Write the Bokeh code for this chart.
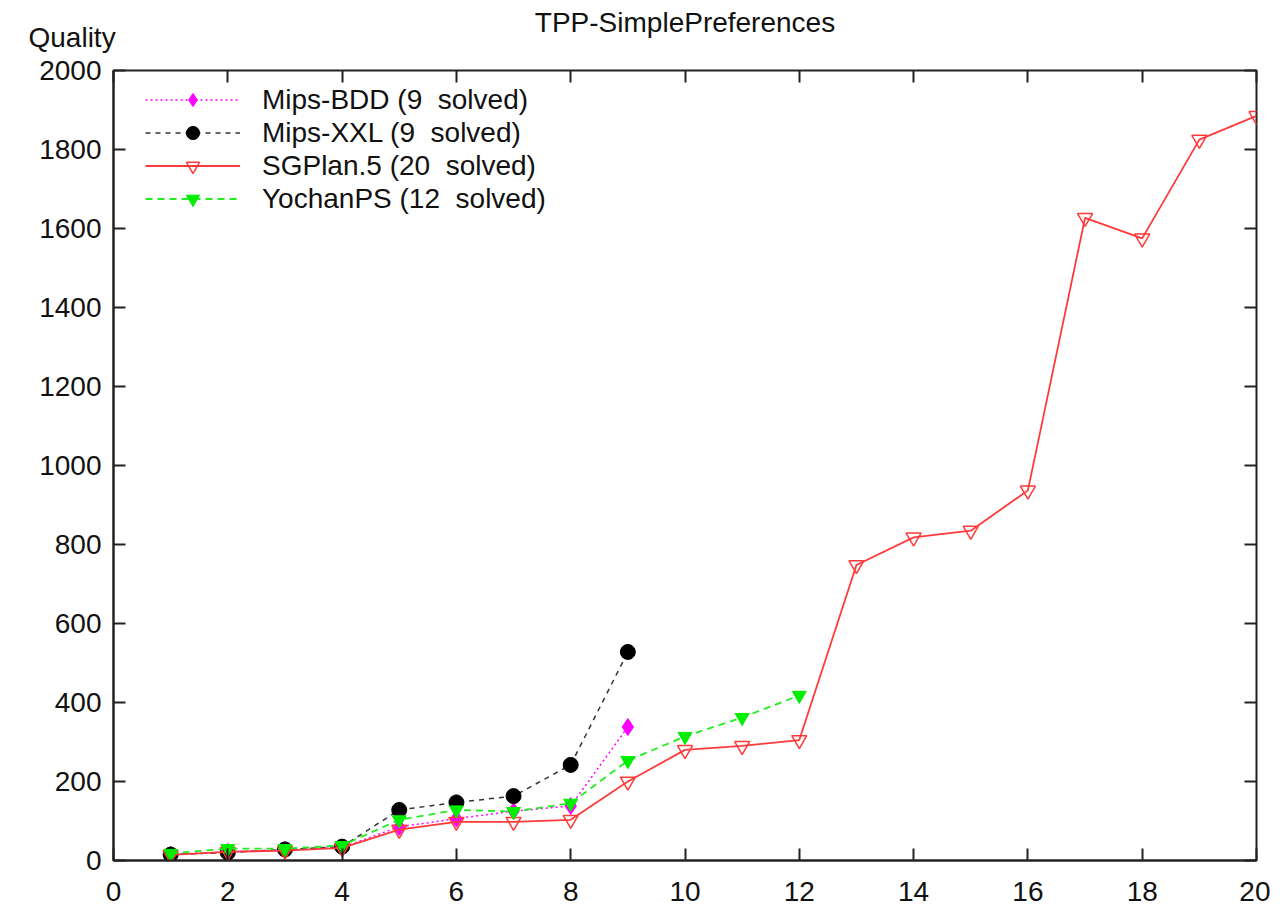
from bokeh.plotting import figure
from bokeh.models import Legend, LegendItem, LinearAxis, FixedTicker, Range1d, Title
from bokeh.embed import file_html
from bokeh.resources import INLINE

problems_bdd = [1, 2, 3, 4, 5, 6, 7, 8, 9]
mips_bdd = [15, 22, 27, 33, 85, 106, 125, 138, 338]
problems_xxl = [1, 2, 3, 4, 5, 6, 7, 8, 9]
mips_xxl = [15, 20, 28, 35, 128, 147, 163, 242, 528]
problems_sg = list(range(1, 21))
sgplan = [14, 22, 25, 32, 78, 98, 98, 103, 200, 280, 290, 305, 748, 818, 835, 937, 1627, 1575, 1825, 1885]
problems_yp = list(range(1, 13))
yochan = [18, 30, 30, 38, 103, 128, 124, 145, 253, 314, 362, 418]

labels = ["Mips-BDD (9  solved)", "Mips-XXL (9  solved)", "SGPlan.5 (20  solved)", "YochanPS (12  solved)"]
x_ticks = list(range(0, 21, 2))
y_ticks = list(range(0, 2001, 200))

FONT = "Liberation Sans"
FS = "28px"

p = figure(width=1270, height=905, output_backend="svg", toolbar_location=None,
           x_range=Range1d(0, 20), y_range=Range1d(0, 2000), title_location=None,
           min_border_left=113, min_border_right=14, min_border_top=70, min_border_bottom=45)
p.grid.visible = False
p.outline_line_color = "#222222"
p.outline_line_width = 2
p.background_fill_color = "white"

xt = FixedTicker(ticks=x_ticks)
yt = FixedTicker(ticks=y_ticks)
p.xaxis.ticker = xt
p.yaxis.ticker = yt
for ax in [p.xaxis[0], p.yaxis[0]]:
    ax.major_tick_in = 12
    ax.major_tick_out = 0
    ax.minor_tick_line_color = None
    ax.axis_line_color = "#222222"
    ax.axis_line_width = 2
    ax.major_tick_line_color = "#222222"
    ax.major_tick_line_width = 2
    ax.major_label_text_font = FONT
    ax.major_label_text_font_size = FS
    ax.major_label_text_color = "#111111"
p.xaxis.major_label_standoff = 21
p.yaxis.major_label_standoff = 12

ax_top = LinearAxis(ticker=xt, major_tick_in=12, major_tick_out=0, minor_tick_line_color=None,
                    major_label_text_color=None, axis_line_color=None,
                    major_tick_line_color="#222222", major_tick_line_width=2)
ax_right = LinearAxis(ticker=yt, major_tick_in=12, major_tick_out=0, minor_tick_line_color=None,
                      major_label_text_color=None, axis_line_color=None,
                      major_tick_line_color="#222222", major_tick_line_width=2)
p.add_layout(ax_top, "above")
p.add_layout(ax_right, "right")

quality = Title(text="Quality", align="left", offset=-85, standoff=36,
                text_font=FONT, text_font_size="28px", text_font_style="normal", text_color="#111111")
main_title = Title(text="TPP-SimplePreferences", align="center", standoff=-72,
                   text_font=FONT, text_font_size=FS, text_font_style="normal", text_color="#111111")
p.add_layout(quality, "above")
p.add_layout(main_title, "above")

r1l = p.line(problems_bdd, mips_bdd, line_color="#ff00ff", line_width=1.5, line_dash="2 3")
r1m = p.scatter(problems_bdd, mips_bdd, marker="diamond", size=17, fill_color="#ff00ff", line_color="#ff00ff")
r2l = p.line(problems_xxl, mips_xxl, line_color="#333333", line_width=1.5, line_dash="5 5")
r2m = p.scatter(problems_xxl, mips_xxl, marker="circle", size=15, fill_color="black", line_color="black")
r3l = p.line(problems_sg, sgplan, line_color="#ff3a3a", line_width=1.8)
r3m = p.scatter(problems_sg, sgplan, marker="inverted_triangle", size=15, fill_color=None,
                line_color="#ff3a3a", line_width=1.5)
r4l = p.line(problems_yp, yochan, line_color="#22ee22", line_width=1.8, line_dash="7 5")
r4m = p.scatter(problems_yp, yochan, marker="inverted_triangle", size=14, fill_color="#00ee00", line_color="#00ee00")

legend = Legend(items=[
    LegendItem(label=labels[0], renderers=[r1l, r1m]),
    LegendItem(label=labels[1], renderers=[r2l, r2m]),
    LegendItem(label=labels[2], renderers=[r3l, r3m]),
    LegendItem(label=labels[3], renderers=[r4l, r4m]),
], location=(32, 645))
legend.border_line_color = None
legend.background_fill_alpha = 0
legend.label_text_font = FONT
legend.label_text_font_size = FS
legend.label_text_color = "#111111"
legend.glyph_width = 95
legend.glyph_height = 33
legend.label_height = 33
legend.label_standoff = 22
legend.spacing = 0
legend.padding = 0
legend.margin = 0
p.add_layout(legend)

open("out.html", "w").write(file_html(p, INLINE))
